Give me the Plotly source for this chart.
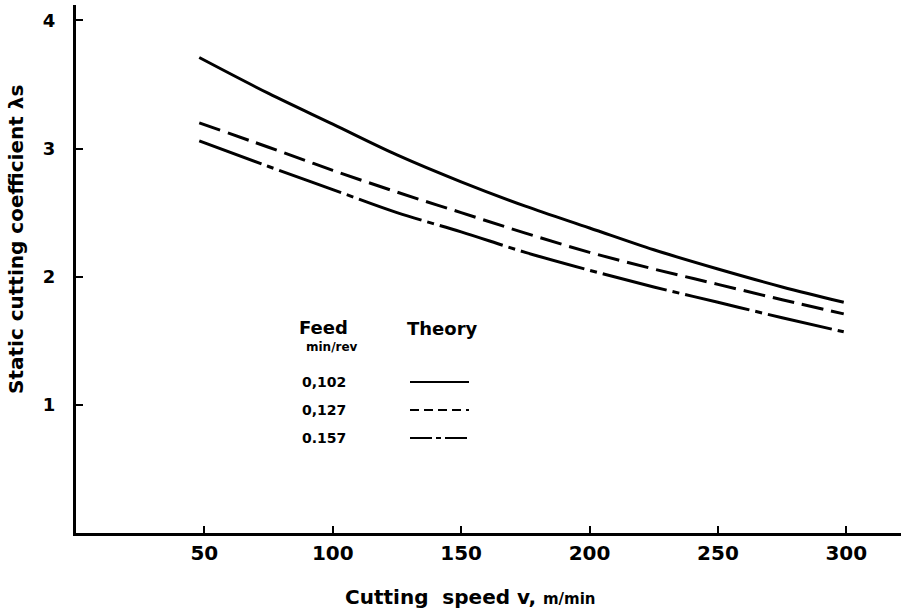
import plotly.graph_objects as go

# ---- data ----
speed = [48, 75, 100, 125, 150, 175, 200, 225, 250, 275, 299]
lam_0102 = [3.71, 3.43, 3.19, 2.95, 2.74, 2.55, 2.38, 2.21, 2.06, 1.92, 1.80]
lam_0127 = [3.20, 3.01, 2.83, 2.66, 2.50, 2.34, 2.19, 2.06, 1.94, 1.82, 1.71]
lam_0157 = [3.06, 2.86, 2.68, 2.50, 2.35, 2.19, 2.05, 1.92, 1.80, 1.68, 1.57]
feed_labels = ["0,102", "0,127", "0.157"]
x_ticks = [50, 100, 150, 200, 250, 300]
y_ticks = [1, 2, 3, 4]

FONT = "DejaVu Sans"
series = [lam_0102, lam_0127, lam_0157]
dashes = ["solid", "22px,8px", "66px,6px,7px,6px"]
legend_dashes = ["solid", "9px,5px", "22px,4px,5px,4px"]

fig = go.Figure()
for vals, d, name in zip(series, dashes, feed_labels):
    fig.add_trace(go.Scatter(x=speed, y=vals, mode="lines", name=name,
                             line=dict(color="black", width=3, dash=d, shape="spline"),
                             showlegend=False, hoverinfo="skip"))

W, H = 901, 612
L, R, T, B = 76, 0, 5, 79
pw, ph = W - L - R, H - T - B


def px(xp):
    return (xp - L) / pw


def py(yp):
    return (H - B - yp) / ph


def note(text, x, y, size, xanchor="center", angle=0):
    return dict(text=text, x=px(x), y=py(y), xref="paper", yref="paper",
                xanchor=xanchor, yanchor="middle", textangle=angle, showarrow=False,
                font=dict(family=FONT, size=size, color="black", weight="bold"))


ann = [
    note("Static cutting coefficient λs", 16, 240, 20, angle=-90),
    note("Cutting  speed v, <span style='font-size:15px'>m/min</span>", 470, 597, 20),
    note("Feed", 323, 327, 18),
    note("min/rev", 332, 347, 12),
    note("Theory", 442, 328, 18),
]
row_y = [382, 410, 438]
shapes = []
for lab, yy, d in zip(feed_labels, row_y, legend_dashes):
    ann.append(note(lab, 300, yy, 14, xanchor="left"))
    shapes.append(dict(type="line", xref="paper", yref="paper", x0=px(410), x1=px(469),
                       y0=py(yy), y1=py(yy), line=dict(color="black", width=2, dash=d)))

fig.update_layout(
    width=W, height=H, margin=dict(l=L, r=R, t=T, b=B),
    paper_bgcolor="white", plot_bgcolor="white",
    annotations=ann, shapes=shapes, showlegend=False,
    xaxis=dict(range=[0, 321.3], tickvals=x_ticks, ticktext=[f"<b>{v}</b>" for v in x_ticks],
               ticks="inside", ticklen=7, tickwidth=1.5, tickcolor="black",
               showline=True, linewidth=3, linecolor="black", showgrid=False, zeroline=False,
               ticklabelstandoff=0,
               tickfont=dict(family=FONT, size=20, color="black")),
    yaxis=dict(range=[0, 4.12], tickvals=y_ticks, ticktext=[f"<b>{v}</b>" for v in y_ticks],
               ticks="inside", ticklen=7, tickwidth=1.5, tickcolor="black",
               showline=True, linewidth=3, linecolor="black", showgrid=False, zeroline=False,
               ticklabelstandoff=14,
               tickfont=dict(family=FONT, size=18, color="black")),
)

fig.write_html("out.html")
